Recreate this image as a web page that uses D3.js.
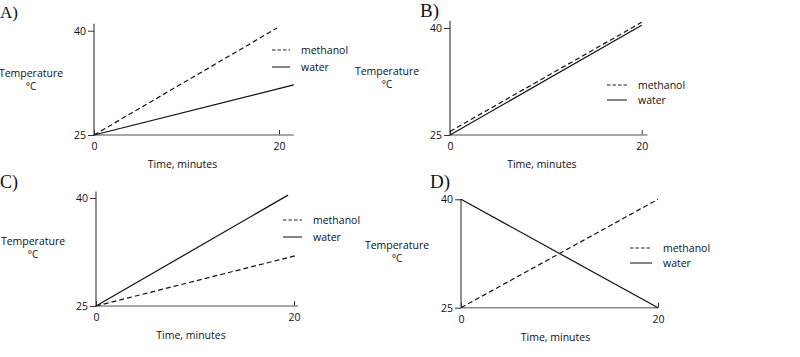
<!DOCTYPE html>
<html>
<head>
<meta charset="utf-8">
<script src="https://cdn.jsdelivr.net/npm/d3@7/dist/d3.min.js"></script>
<style>
  html, body { margin: 0; padding: 0; background: #fff; }
  svg { display: block; }
  .lbl { font-family: "Open Sans", sans-serif; fill: #111; }
  .ttl { font-family: "Liberation Serif", "Times New Roman", serif; fill: #111; }
</style>
</head>
<body>
<script>
// ---------- data ----------
const panelTitles = ["A)", "B)", "C)", "D)"];
const seriesNames = ["methanol", "water"];
const xTickValues = [0, 20];
const yTickValues = [25, 40];
const xAxisTitle = "Time, minutes";
const yAxisTitle = ["Temperature", "°C"];

// [time (minutes), temperature (°C)]
const methanolA = [[0, 25], [19.8, 40.4]];
const waterA    = [[0, 25], [21.6, 32.2]];
const methanolB = [[0, 25.5], [20, 40.8]];
const waterB    = [[0, 25], [20, 40.4]];
const methanolC = [[0, 25], [20.2, 32.0]];
const waterC    = [[0, 25], [19.4, 40.4]];
const methanolD = [[0, 25], [20, 40]];
const waterD    = [[0, 40], [20, 25]];

const panelSeries = [
  [methanolA, waterA],
  [methanolB, waterB],
  [methanolC, waterC],
  [methanolD, waterD]
];

// ---------- layout ----------
const W = 800, H = 357;
const layout = [
  { x0: 94,  x20: 279,   y25: 135,   y40: 30.7,  xEnd: 21.6, yTop: 41,   title: [0, 18, 17],   temp: [31, 77],  leg: [272, 50, 17], legLen: 18 },
  { x0: 450, x20: 641.7, y25: 135,   y40: 28,    xEnd: 20.6, yTop: 41,   title: [420, 17, 19], temp: [387, 75], leg: [607, 85, 15], legLen: 20 },
  { x0: 96,  x20: 294,   y25: 306,   y40: 198,   xEnd: 20.4, yTop: 40.9, title: [0, 188, 18],  temp: [33, 245], leg: [283, 220, 17], legLen: 19 },
  { x0: 461, x20: 658,   y25: 307.7, y40: 199.3, xEnd: 20,   yTop: 40,   title: [430, 188, 19], temp: [397, 249], leg: [630, 248, 15], legLen: 22 }
];
const dashes = ["5,3", null];
const legendDashes = ["3.5,2", null];

const svg = d3.select("body").append("svg").attr("width", W).attr("height", H);

panelSeries.forEach((series, i) => {
  const L = layout[i];
  const x = d3.scaleLinear().domain([0, 20]).range([L.x0, L.x20]);
  const y = d3.scaleLinear().domain([25, 40]).range([L.y25, L.y40]);
  const g = svg.append("g");

  // title
  g.append("text").attr("class", "ttl")
    .attr("x", L.title[0]).attr("y", L.title[1])
    .attr("font-size", L.title[2])
    .text(panelTitles[i]);

  // y axis
  const yAx = g.append("g").attr("transform", `translate(${L.x0},0)`)
    .call(d3.axisLeft(y).tickValues(yTickValues).tickSize(6).tickPadding(2).tickFormat(d3.format("d")));
  yAx.select(".domain").remove();
  yAx.selectAll(".tick line").attr("stroke", "#333");
  yAx.selectAll(".tick text").attr("font-size", 10.5).style("font-family", "'Open Sans', sans-serif").attr("fill", "#111");
  g.append("line")
    .attr("x1", x(0)).attr("x2", x(0))
    .attr("y1", y(25)).attr("y2", y(L.yTop))
    .attr("stroke", "#222").attr("stroke-width", 1);

  // x axis
  const xAx = g.append("g").attr("transform", `translate(0,${L.y25})`)
    .call(d3.axisBottom(x).tickValues(xTickValues).tickSize(-5).tickPadding(8).tickFormat(d3.format("d")));
  xAx.select(".domain").remove();
  xAx.selectAll(".tick line").attr("stroke", "#333");
  xAx.selectAll(".tick text").attr("font-size", 10.5).style("font-family", "'Open Sans', sans-serif").attr("fill", "#111");
  g.append("line")
    .attr("x1", x(0)).attr("x2", x(L.xEnd))
    .attr("y1", y(25)).attr("y2", y(25))
    .attr("stroke", "#8a8a8a").attr("stroke-width", 1.6);

  // axis titles
  g.append("text").attr("class", "lbl")
    .attr("x", (x(0) + x(20)) / 2 - 4).attr("y", L.y25 + 33)
    .attr("text-anchor", "middle").attr("font-size", 10.5)
    .text(xAxisTitle);
  g.append("text").attr("class", "lbl")
    .attr("x", L.temp[0]).attr("y", L.temp[1])
    .attr("text-anchor", "middle").attr("font-size", 10.5)
    .text(yAxisTitle[0]);
  g.append("text").attr("class", "lbl")
    .attr("x", L.temp[0]).attr("y", L.temp[1] + 13)
    .attr("text-anchor", "middle").attr("font-size", 10)
    .text(yAxisTitle[1]);

  // lines
  const line = d3.line().x(d => x(d[0])).y(d => y(d[1]));
  series.forEach((s, k) => {
    g.append("path").datum(s)
      .attr("d", line)
      .attr("fill", "none")
      .attr("stroke", "#111")
      .attr("stroke-width", 1.2)
      .attr("stroke-dasharray", dashes[k]);
  });

  // legend
  seriesNames.forEach((name, k) => {
    const ly = L.leg[1] + k * L.leg[2];
    g.append("line")
      .attr("x1", L.leg[0]).attr("x2", L.leg[0] + L.legLen)
      .attr("y1", ly).attr("y2", ly)
      .attr("stroke", (i === 2 && k === 1) ? "#777" : "#222")
      .attr("stroke-width", (i === 2 && k === 1) ? 1.8 : 1.1)
      .attr("stroke-dasharray", legendDashes[k]);
    g.append("text").attr("class", "lbl")
      .attr("x", L.leg[0] + L.legLen + 11).attr("y", ly + 3.5)
      .attr("font-size", 10.5)
      .text(name);
  });
});
</script>
</body>
</html>
